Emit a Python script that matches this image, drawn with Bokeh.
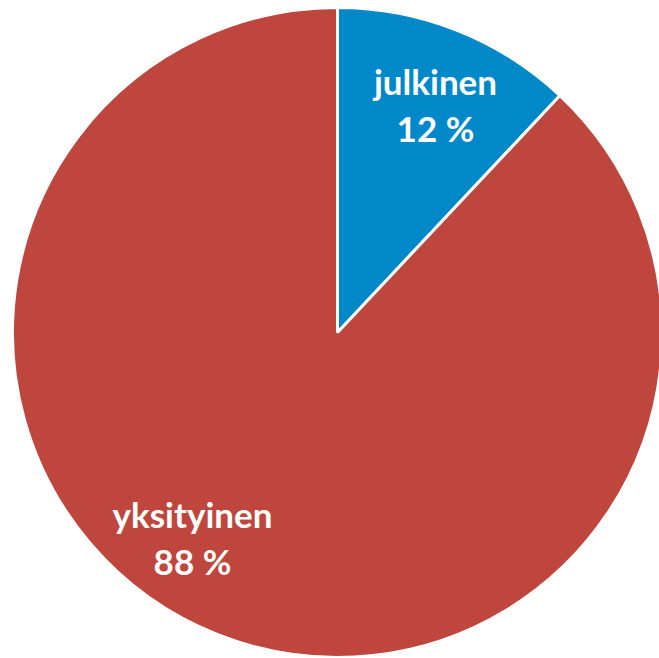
import math
from bokeh.plotting import figure
from bokeh.models import Range1d, ColumnDataSource
from bokeh.core.properties import value
from bokeh.embed import file_html
from bokeh.resources import INLINE

categories = ["julkinen", "yksityinen"]
shares = [12, 88]
colors = ["#0088C9", "#BE463C"]
labels = ["julkinen\n12 %", "yksityinen\n88 %"]

W, H = 659, 658
CX, CY = 337, 332   # pie centre in figure pixels (from top-left)
R = 325

p = figure(width=W, height=H, output_backend="svg", toolbar_location=None,
           x_range=Range1d(-CX, W - CX), y_range=Range1d(-(H - CY), CY),
           min_border=0, outline_line_color=None)
p.axis.visible = False
p.grid.visible = False
p.background_fill_color = "white"
p.border_fill_color = "white"

total = sum(shares)
starts, ends = [], []
a = math.pi / 2
for s in shares:
    span = 2 * math.pi * s / total
    ends.append(a)
    starts.append(a - span)
    a -= span

src = ColumnDataSource(dict(cat=categories, start=starts, end=ends, color=colors))
p.wedge(x=0, y=0, radius=R, start_angle="start", end_angle="end",
        direction="anticlock", fill_color="color", line_color="white",
        line_width=3, source=src)

# label placement (layout): offsets of label block centre from pie centre
label_off = [(98, 228), (-145, -205)]
lx = [dx for dx, dy in label_off]
ly = [dy for dx, dy in label_off]
p.text(x=lx, y=ly, text=labels, text_align="center", text_baseline="middle",
       text_color="white", text_font=value("Lato"), text_font_style="bold",
       text_font_size="35px", text_line_height=1.1)

open("out.html", "w").write(file_html(p, INLINE))
